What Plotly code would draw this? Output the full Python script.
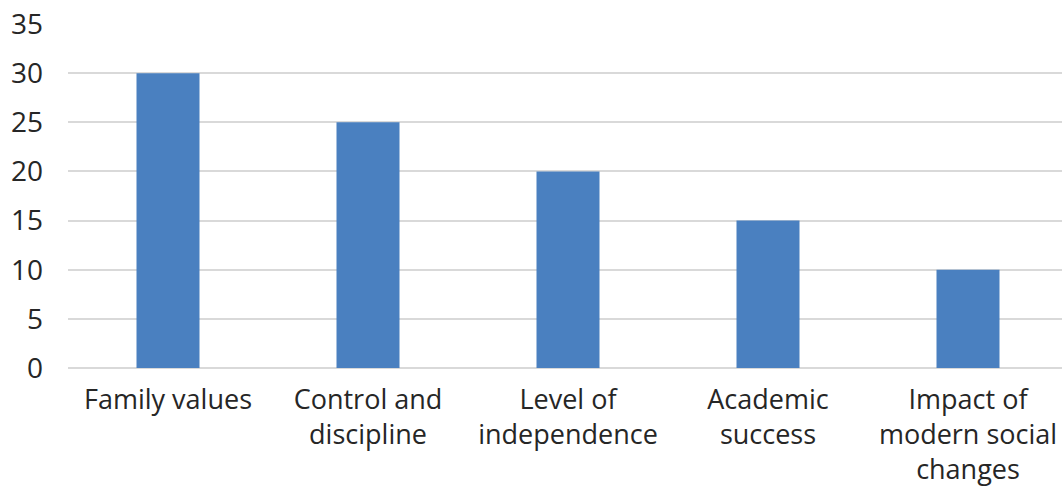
import plotly.graph_objects as go

categories = ["Family values", "Control and<br>discipline", "Level of<br>independence",
              "Academic<br>success", "Impact of<br>modern social<br>changes"]
values = [30, 25, 20, 15, 10]
y_ticks = [0, 5, 10, 15, 20, 25, 30, 35]

FONT = "Open Sans"
fig = go.Figure(go.Bar(x=categories, y=values, marker=dict(color="#4A80C0", line=dict(width=0)), width=0.315))

fig.update_layout(
    width=1062, height=489,
    margin=dict(l=68, r=0, t=24, b=121),
    paper_bgcolor="white", plot_bgcolor="white",
    font=dict(family=FONT, size=28, color="#262626"),
    showlegend=False,
)
fig.update_xaxes(showgrid=False, showline=False, ticks="", automargin=False,
                 range=[-0.5, 4.47],
                 ticklabelstandoff=13, tickfont=dict(size=27, color="#262626"))
fig.update_yaxes(range=[0, 35], tickvals=y_ticks, showgrid=True, gridcolor="#D9D9D9", gridwidth=2,
                 zeroline=True, zerolinecolor="#D9D9D9", zerolinewidth=2, showline=False,
                 automargin=False, ticklabelstandoff=24, tickfont=dict(size=28, color="#262626"))

fig.write_html("out.html")
